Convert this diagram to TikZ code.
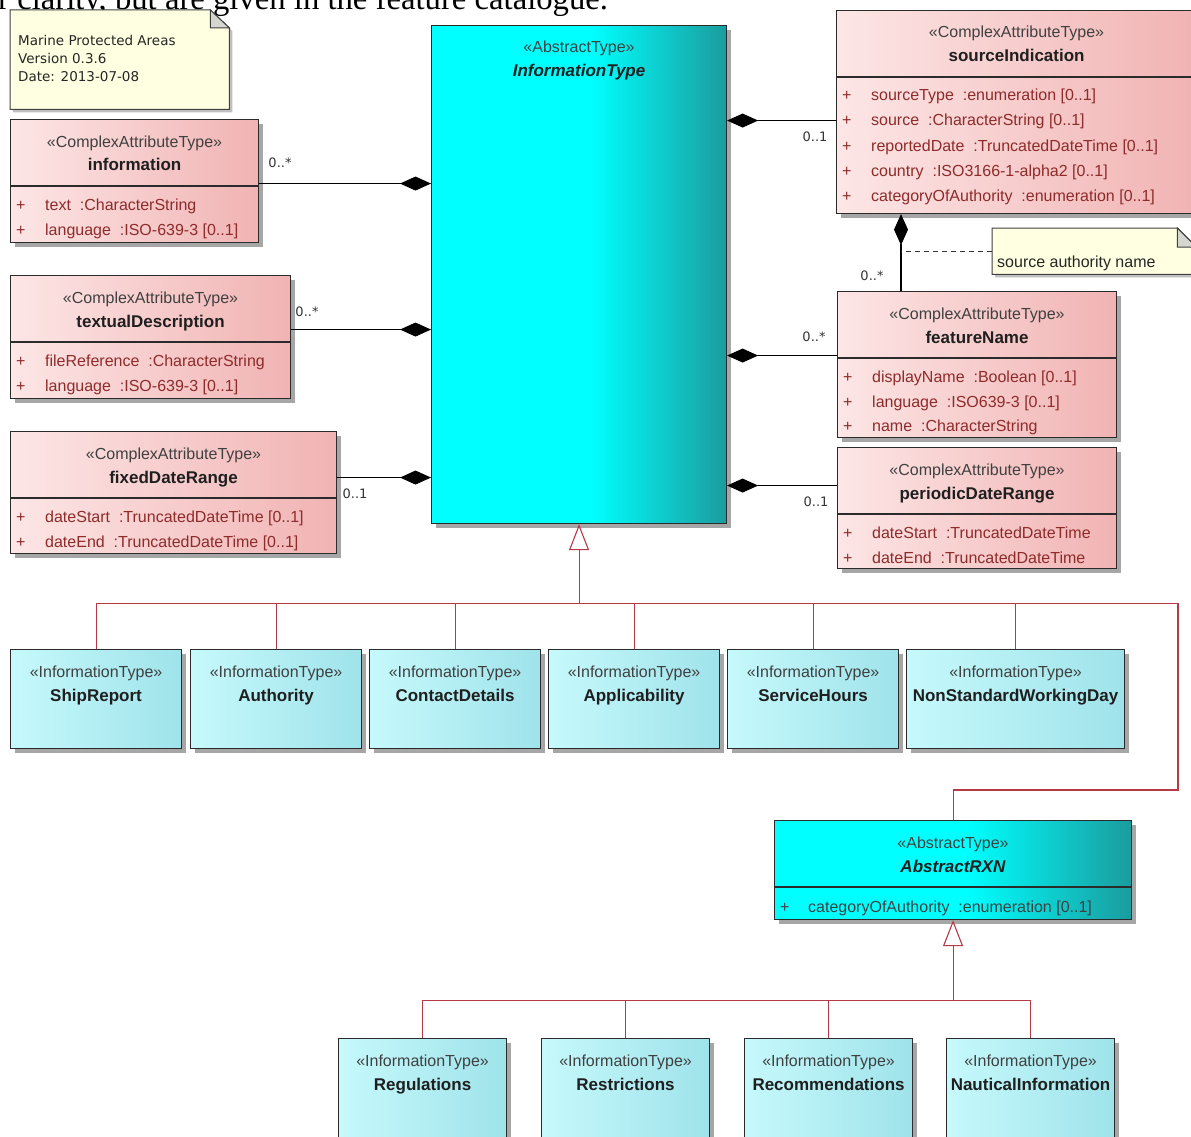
\documentclass[tikz,border=0pt]{standalone}
\usepackage{fontspec}
\setmainfont{Liberation Sans}
\newfontfamily\notefont{DejaVu Sans}
\newfontfamily\cutfont{Liberation Serif}
\usetikzlibrary{arrows.meta,shadows,calc}

\definecolor{boxline}{HTML}{2B2B2B}
\definecolor{pinkL}{HTML}{FDE6E6}
\definecolor{pinkR}{HTML}{F1B3B3}
\definecolor{cyanL}{HTML}{C6F9FC}
\definecolor{cyanR}{HTML}{9FE3EA}
\definecolor{abstractL}{HTML}{00FFFF}
\definecolor{abstractR}{HTML}{1B9C9E}
\definecolor{notefill}{HTML}{FFFFE1}
\definecolor{foldgray}{HTML}{D6D6D0}
\definecolor{genred}{HTML}{B53A47}
\definecolor{attrred}{HTML}{8E2B2B}

\pgfdeclarehorizontalshading{abstractshade}{100bp}{color(0bp)=(abstractL); color(25bp)=(abstractL); color(52bp)=(abstractL); color(75bp)=(abstractR); color(100bp)=(abstractR)}

\tikzset{
  umlbox/.style={rectangle, draw=boxline, line width=1.1pt, inner sep=0pt, anchor=north west,
    drop shadow={shadow xshift=4pt, shadow yshift=-4pt, fill=black!35, opacity=1}},
  complexbox/.style={umlbox, left color=pinkL, right color=pinkR},
  infobox/.style={umlbox, left color=cyanL, right color=cyanR, minimum width=171, minimum height=99},
  abstractbox/.style={umlbox, shading=abstractshade},
  divider/.style={draw=boxline, line width=1.1pt},
  stereo/.style={anchor=base, inner sep=0pt, text=black!75, font=\fontsize{16}{18}\selectfont},
  cname/.style={anchor=base, inner sep=0pt, text=black!88, font=\fontsize{17}{19}\selectfont\bfseries},
  attr/.style={anchor=base west, inner sep=0pt, text=attrred, font=\fontsize{16}{18}\selectfont},
  mult/.style={inner sep=0pt, text=black!80, font=\notefont\fontsize{13}{15}\selectfont},
  comp/.style={draw=black, line width=1.1pt, -{Diamond[length=31pt,width=14pt]}},
  gen/.style={draw=genred, line width=1.1pt},
  genhead/.style={gen, -{Triangle[length=26pt,width=20pt,fill=white]}},
  notebox/.style={rectangle, inner sep=0pt, anchor=north west},
  notepath/.style={draw=black!75, line width=1pt, fill=notefill,
    drop shadow={shadow xshift=3pt, shadow yshift=-3pt, fill=black!25, opacity=1}},
  fold/.style={draw=black!75, line width=1pt, fill=foldgray},
  notetext/.style={anchor=base west, inner sep=0pt, text=black!85},
}

\begin{document}
\begin{tikzpicture}[x=1pt, y=-1pt]
  \useasboundingbox (0,0) rectangle (1191,1137);

  % line of the page text above the diagram (cut)
  \node[anchor=base west, inner sep=0pt, font=\cutfont\fontsize{32.7}{36}\selectfont] (pagetext) at (-2,10)
    {r clarity, but are given in the feature catalogue.};

  % notes
  \node[notebox, minimum width=219, minimum height=99] (mpanote) at (10,10) {};
  \draw[notepath] (mpanote.north west) -- ([xshift=-19pt]mpanote.north east) -- ([yshift=-18pt]mpanote.north east)
    -- (mpanote.south east) -- (mpanote.south west) -- cycle;
  \draw[fold] ([xshift=-19pt]mpanote.north east) -- ([xshift=-19pt,yshift=-18pt]mpanote.north east)
    -- ([yshift=-18pt]mpanote.north east) -- cycle;
  \foreach \entry [count=\i] in {Marine Protected Areas, Version 0.3.6, Date: 2013-07-08}
    \node[notetext, font=\notefont\fontsize{13.5}{15}\selectfont] (mpa-\i) at (18,28+18*\i) {\entry};

  \node[notebox, minimum width=204, minimum height=46] (srcnote) at (992,228) {};
  \draw[notepath] (srcnote.north west) -- ([xshift=-19pt]srcnote.north east) -- ([yshift=-19pt]srcnote.north east)
    -- (srcnote.south east) -- (srcnote.south west) -- cycle;
  \draw[fold] ([xshift=-19pt]srcnote.north east) -- ([xshift=-19pt,yshift=-19pt]srcnote.north east)
    -- ([yshift=-19pt]srcnote.north east) -- cycle;
  \node[notetext, font=\fontsize{16}{18}\selectfont] (srcnote-t) at (997,267) {source authority name};

  % ComplexAttributeType boxes on the left
  \node[complexbox, minimum width=248, minimum height=123] (info) at (10,119) {};
  \node[complexbox, minimum width=280, minimum height=123] (textual) at (10,275) {};
  \node[complexbox, minimum width=326, minimum height=122] (fixed) at (10,431) {};

  % abstract InformationType
  \node[abstractbox, minimum width=295, minimum height=498] (itype) at (431,25) {};

  % ComplexAttributeType boxes on the right
  \node[complexbox, minimum width=360, minimum height=203] (src) at (836,10) {};
  \node[complexbox, minimum width=279, minimum height=146] (featname) at (837,291) {};
  \node[complexbox, minimum width=279, minimum height=121] (periodic) at (837,447) {};

  % sub types of InformationType
  \foreach \n/\x in {shipreport/10, authority/190, contact/369, applic/548, service/727}
    \node[infobox] (\n) at (\x,649) {};
  \node[infobox, minimum width=218] (nonstd) at (906,649) {};

  % abstract RXN
  \node[abstractbox, minimum width=357, minimum height=99] (rxn) at (774,820) {};

  % sub types of AbstractRXN
  \foreach \n/\x in {regulations/338, restrictions/541, recommend/744, nautical/946}
    \node[infobox, minimum width=168, minimum height=110] (\n) at (\x,1038) {};

  % header dividers
  \foreach \n in {info,textual,fixed,src,featname,periodic,rxn}
    \draw[divider] ([yshift=-67pt]\n.north west) -- ([yshift=-67pt]\n.north east);

  % stereotypes and names
  \foreach \n/\st/\nm in {info/ComplexAttributeType/information,
      textual/ComplexAttributeType/textualDescription,
      fixed/ComplexAttributeType/fixedDateRange,
      src/ComplexAttributeType/sourceIndication,
      featname/ComplexAttributeType/featureName,
      periodic/ComplexAttributeType/periodicDateRange,
      itype/AbstractType/\textit{InformationType},
      rxn/AbstractType/\textit{AbstractRXN},
      shipreport/InformationType/ShipReport,
      authority/InformationType/Authority,
      contact/InformationType/ContactDetails,
      applic/InformationType/Applicability,
      service/InformationType/ServiceHours,
      nonstd/InformationType/NonStandardWorkingDay,
      regulations/InformationType/Regulations,
      restrictions/InformationType/Restrictions,
      recommend/InformationType/Recommendations,
      nautical/InformationType/NauticalInformation}
  {
    \node[stereo] (\n-st) at ($(\n.north)+(0,28)$) {«\st»};
    \node[cname] (\n-nm) at ($(\n.north)+(0,52)$) {\nm};
  }

  % attributes
  \foreach \entry [count=\i] in {text ~:CharacterString, language ~:ISO-639-3 [0..1]}
    \node[attr] (info-a\i) at ($(info.north west)+(6,66+25*\i)$) {\makebox[29pt][l]{+}\entry};
  \foreach \entry [count=\i] in {fileReference ~:CharacterString, language ~:ISO-639-3 [0..1]}
    \node[attr] (textual-a\i) at ($(textual.north west)+(6,66+25*\i)$) {\makebox[29pt][l]{+}\entry};
  \foreach \entry [count=\i] in {dateStart ~:TruncatedDateTime [0..1], dateEnd ~:TruncatedDateTime [0..1]}
    \node[attr] (fixed-a\i) at ($(fixed.north west)+(6,66+25*\i)$) {\makebox[29pt][l]{+}\entry};
  \foreach \entry [count=\i] in {sourceType ~:enumeration [0..1], source ~:CharacterString [0..1],
      reportedDate ~:TruncatedDateTime [0..1], country ~:ISO3166-1-alpha2 [0..1],
      categoryOfAuthority ~:enumeration [0..1]}
    \node[attr] (src-a\i) at ($(src.north west)+(6,66+25*\i)$) {\makebox[29pt][l]{+}\entry};
  \foreach \entry [count=\i] in {displayName ~:Boolean [0..1], language ~:ISO639-3 [0..1], name ~:CharacterString}
    \node[attr] (featname-a\i) at ($(featname.north west)+(6,67+24.5*\i)$) {\makebox[29pt][l]{+}\entry};
  \foreach \entry [count=\i] in {dateStart ~:TruncatedDateTime, dateEnd ~:TruncatedDateTime}
    \node[attr] (periodic-a\i) at ($(periodic.north west)+(6,66+25*\i)$) {\makebox[29pt][l]{+}\entry};
  \node[attr, text=black!75] (rxn-a1) at ($(rxn.north west)+(6,92)$) {\makebox[28pt][l]{+}categoryOfAuthority ~:enumeration [0..1]};

  % compositions into InformationType
  \draw[comp] ([yshift=-2.5pt]info.east) -- ([yshift=-2.5pt]info.east -| itype.west);
  \draw[comp] ([yshift=7.5pt]textual.east) -- ([yshift=7.5pt]textual.east -| itype.west);
  \draw[comp] ([yshift=15pt]fixed.east) -- ([yshift=15pt]fixed.east -| itype.west);
  \draw[comp] ([yshift=-8.5pt]src.west) -- ([yshift=-8.5pt]src.west -| itype.east);
  \draw[comp] ([yshift=9pt]featname.west) -- ([yshift=9pt]featname.west -| itype.east);
  \draw[comp] ([yshift=22.5pt]periodic.west) -- ([yshift=22.5pt]periodic.west -| itype.east);

  % featureName into sourceIndication
  \coordinate (fnjoin) at ($(featname.north west)+(64,0)$);
  \draw[comp] (fnjoin) -- (fnjoin |- src.south);
  \draw[black!80, line width=1pt, dash pattern=on 5pt off 4pt] (srcnote.west) -- (srcnote.west -| fnjoin);

  % multiplicities
  \node[mult] (m-info) at (280,163) {0..*};
  \node[mult] (m-textual) at (307,312) {0..*};
  \node[mult] (m-fixed) at (355,494) {0..1};
  \node[mult] (m-src) at (815,137) {0..1};
  \node[mult] (m-featname) at (814,337) {0..*};
  \node[mult] (m-periodic) at (816,502) {0..1};
  \node[mult] (m-fnjoin) at (872,276) {0..*};

  % generalization to InformationType
  \path (itype.south) ++(0,79) coordinate (bus);
  \coordinate (turn) at (1178,790);
  \draw[genhead] (bus) -- (itype.south);
  \draw[gen] (shipreport.north |- bus) -| (turn) -| (rxn.north);
  \foreach \n in {shipreport,authority,contact,applic,service,nonstd}
    \draw[gen] (\n.north) -- (\n.north |- bus);

  % generalization to AbstractRXN
  \path (rxn.south) ++(0,80) coordinate (bus2);
  \draw[genhead] (bus2) -- (rxn.south);
  \draw[gen] (regulations.north |- bus2) -- (nautical.north |- bus2);
  \foreach \n in {regulations,restrictions,recommend,nautical}
    \draw[gen] (\n.north) -- (\n.north |- bus2);

\end{tikzpicture}
\end{document}
